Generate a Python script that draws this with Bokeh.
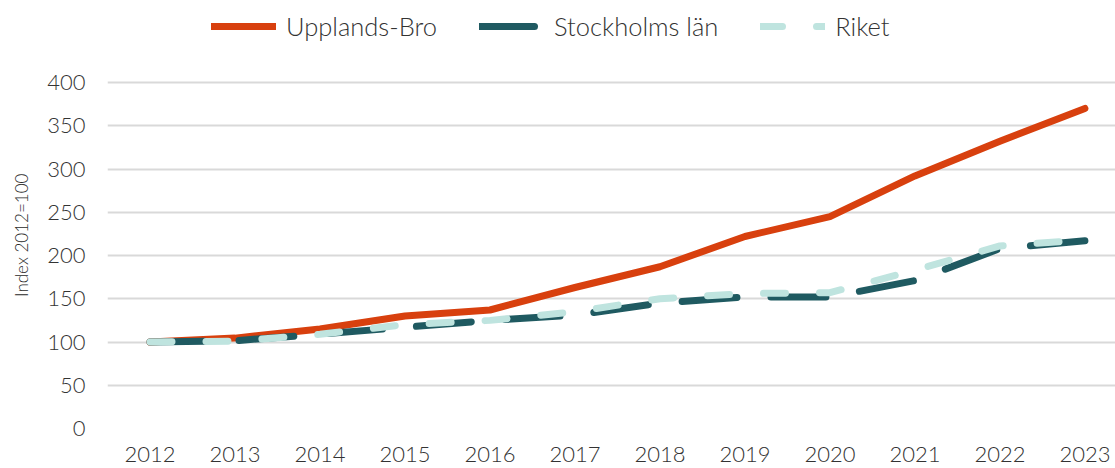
from bokeh.plotting import figure
from bokeh.models import Range1d, Legend, LegendItem, FixedTicker
from bokeh.embed import file_html
from bokeh.resources import INLINE

years = [2012, 2013, 2014, 2015, 2016, 2017, 2018, 2019, 2020, 2021, 2022, 2023]
upplands_bro = [100, 104.5, 115, 130, 137, 163, 187, 222, 245, 292, 332, 370]
stockholms_lan = [100, 101.5, 109, 117, 125, 131, 145, 152, 152, 171, 208, 217]
riket = [100, 101, 109, 120, 125, 135, 150, 156, 157, 183, 211, 218]
y_ticks = [0, 50, 100, 150, 200, 250, 300, 350, 400]

FONT = "Lato Light, Lato"
TXT = "#333333"

p = figure(width=1115, height=468, output_backend="svg", toolbar_location=None,
           x_range=Range1d(2011.5, 2023.36), y_range=Range1d(0, 494.8),
           min_border_left=107, min_border_top=0, min_border_bottom=40, min_border_right=0)
p.outline_line_color = None
p.background_fill_color = "white"
p.border_fill_color = "white"

p.xgrid.visible = False
p.ygrid.grid_line_color = "#d9d9d9"
p.ygrid.grid_line_width = 2
p.yaxis.ticker = FixedTicker(ticks=y_ticks)
p.xaxis.ticker = FixedTicker(ticks=years)

for ax in (p.xaxis[0], p.yaxis[0]):
    ax.axis_line_color = None
    ax.major_tick_line_color = None
    ax.minor_tick_line_color = None
    ax.major_tick_out = 0
    ax.major_tick_in = 0
    ax.major_label_text_font = FONT
    ax.major_label_text_font_size = "22px"
    ax.major_label_text_color = TXT
p.xaxis.major_label_standoff = 18
p.xaxis.major_label_text_line_height = 0.5
p.yaxis.major_label_standoff = 22
p.yaxis.axis_label = "Index 2012=100" + "\u00a0" * 9
p.yaxis.axis_label_text_font = FONT
p.yaxis.axis_label_text_font_style = "normal"
p.yaxis.axis_label_text_font_size = "17px"
p.yaxis.axis_label_text_color = "#2a2a2a"
p.yaxis.axis_label_standoff = 12

r1 = p.line(years, upplands_bro, line_color="#D8400E", line_width=7, line_cap="round", line_join="round")
r2 = p.line(years, stockholms_lan, line_color="#1F5A61", line_width=7, line_cap="round",
            line_join="round", line_dash="55 34")
r3 = p.line(years, riket, line_color="#BFE4DF", line_width=7, line_cap="round",
            line_join="round", line_dash="22 34")

legend = Legend(items=[LegendItem(label="Upplands-Bro", renderers=[r1]),
                       LegendItem(label="Stockholms län", renderers=[r2]),
                       LegendItem(label="Riket", renderers=[r3])],
                orientation="horizontal", location=(104, 387),
                glyph_width=65, glyph_height=20, label_standoff=10, spacing=42,
                padding=0, margin=0, border_line_color=None, background_fill_alpha=0,
                label_text_font=FONT, label_text_font_size="25.5px", label_text_color=TXT)
p.add_layout(legend, "center")

open("out.html", "w").write(file_html(p, INLINE))
